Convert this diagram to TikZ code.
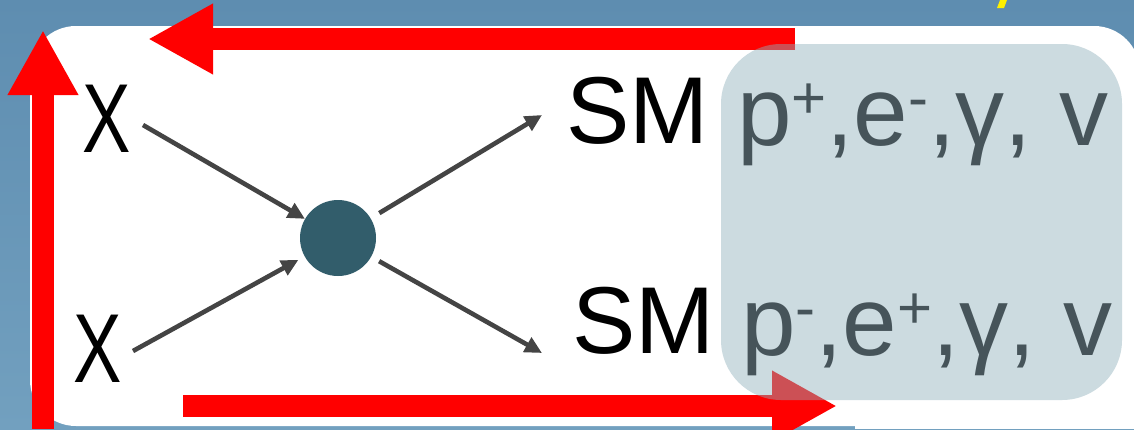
\documentclass[tikz,border=0pt]{standalone}
\usepackage{fontspec}
\setmainfont{Liberation Sans}
\usetikzlibrary{arrows.meta}

\definecolor{slidetop}{RGB}{94,141,176}
\definecolor{slidebottom}{RGB}{114,160,191}
\definecolor{flowred}{RGB}{255,0,0}
\definecolor{boxtint}{RGB}{143,176,187}
\definecolor{particleink}{RGB}{70,84,90}
\definecolor{vertexfill}{RGB}{50,93,107}
\definecolor{linkgray}{RGB}{68,68,68}
\definecolor{titleyellow}{RGB}{255,240,0}

% raised, smaller charge sign
\newcommand{\chargesign}[1]{\raisebox{27pt}{\fontsize{60}{60}\selectfont #1}}

\begin{document}
\begin{tikzpicture}[x=1pt,y=-1pt,
  bigarrow/.style={line width=22pt, flowred, -{Triangle[length=65pt,width=66pt]}},
  link/.style={line width=4.6pt, linkgray, -{Triangle[length=17pt,width=16pt]}},
  fieldtext/.style={inner sep=0pt, anchor=base west, text=black,
                    font=\fontsize{95}{95}\selectfont},
  chitext/.style={inner sep=0pt, anchor=base west, text=black,
                  font=\fontsize{98}{98}\selectfont},
  particles/.style={inner sep=0pt, anchor=base west, text=particleink,
                    font=\fontsize{98}{98}\selectfont},
  vertexdot/.style={circle, fill=vertexfill, minimum size=76pt, inner sep=0pt}
]
\useasboundingbox (0,0) rectangle (1134,429);

% slide background and panel
\shade[top color=slidetop, bottom color=slidebottom] (0,0) rectangle (1134,429);
\fill[white, rounded corners=46pt] (30,26) rectangle (1140,426);
\fill[white] (855,400) rectangle (1134,429);
\fill[titleyellow] (1000,0) -- (1007,0) -- (1004,8) -- (997,8) -- cycle;

% circulation arrows
\coordinate (topstart) at (795,39);
\coordinate (topend) at (148,39);
\coordinate (leftstart) at (43,429);
\coordinate (leftend) at (43,30);
\coordinate (botstart) at (183,406);
\coordinate (botend) at (837,406);
\draw[bigarrow] (topstart) -- (topend);
\draw[bigarrow] (leftstart) -- (leftend);
\draw[bigarrow] (botstart) -- (botend);

% Standard Model final states panel
\fill[boxtint, fill opacity=0.455, rounded corners=60pt] (721,44) rectangle (1122,400);

% labels
\node[chitext] (chiA) at (82,152) {\scalebox{0.74}[1]{X}};
\node[chitext] (chiB) at (73,382) {\scalebox{0.74}[1]{X}};
\node[fieldtext] (smA) at (566,143) {SM};
\node[fieldtext] (smB) at (572,353) {SM};
\node[particles] (finA) at (737,145) {p\chargesign{+},e\chargesign{-},γ, v};
\node[particles] (finB) at (741,355) {p\chargesign{-},e\chargesign{+},γ, v};

% annihilation vertex
\node[vertexdot] (vertex) at (338,238) {};

\coordinate (chiAout) at (143,125);
\coordinate (chiBout) at (133,351);
\coordinate (smAin) at (542,115);
\coordinate (smBin) at (542,353);

\draw[link] (chiAout) -- (vertex);
\draw[link, shorten >=7pt] (chiBout) -- (vertex);
\draw[link, shorten <=10pt] (vertex) -- (smAin);
\draw[link, shorten <=9pt] (vertex) -- (smBin);
\end{tikzpicture}
\end{document}
